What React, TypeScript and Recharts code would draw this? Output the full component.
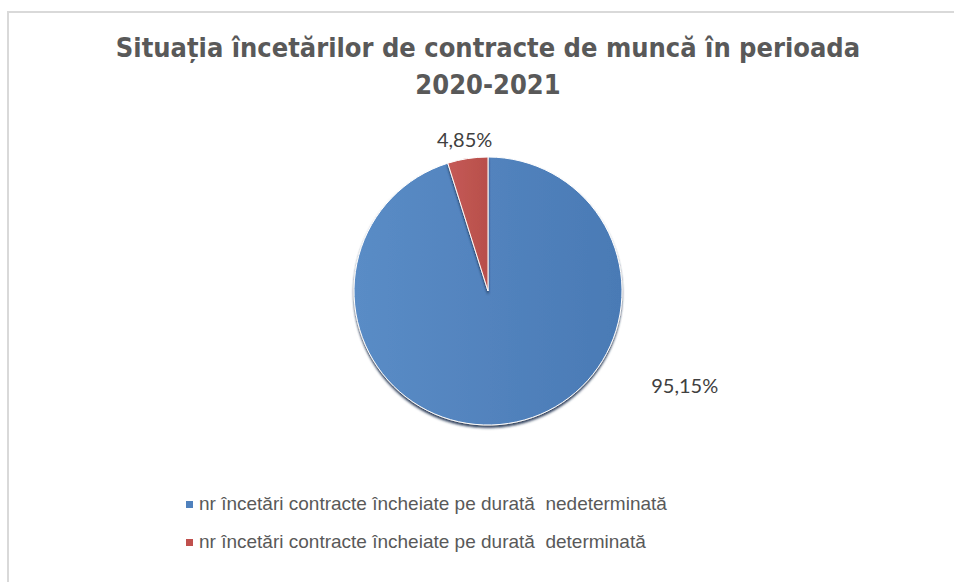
import { Cell, Legend, Pie, PieChart } from "recharts";

const categories = [
  "nr încetări contracte încheiate pe durată  nedeterminată",
  "nr încetări contracte încheiate pe durată  determinată",
];
const shares = [95.15, 4.85];
const labels = ["95,15%", "4,85%"];
const fills = ["url(#blueFill)", "url(#redFill)"];
const swatches = ["#4f81bd", "#c0504d"];

const data = categories.map((name, i) => ({ name, value: shares[i], label: labels[i] }));

const RAD = Math.PI / 180;

function renderLabel(props: any) {
  const cx = Number(props.cx);
  const cy = Number(props.cy);
  const outerRadius = Number(props.outerRadius);
  const { midAngle, index } = props;
  // Excel's best-fit placement: the big slice label sits off to the lower right
  const angle = index === 0 ? -25.5 : midAngle;
  const r = index === 0 ? outerRadius + 84 : outerRadius + 20;
  const x = cx + r * Math.cos(-angle * RAD);
  const y = cy + r * Math.sin(-angle * RAD);
  return (
    <text
      key={index}
      x={x}
      y={y}
      textAnchor="middle"
      dominantBaseline="central"
      fill="#404040"
      fontSize={20}
      fontFamily="Lato, 'Open Sans', sans-serif"
    >
      {data[index].label}
    </text>
  );
}

function LegendBox({ payload }: any) {
  return (
    <div style={{ fontFamily: "'Liberation Sans', Arial, sans-serif", fontSize: 19, color: "#595959" }}>
      {(payload || []).map((p: any, i: number) => (
        <div key={i} style={{ display: "flex", alignItems: "center", height: 38, whiteSpace: "pre" }}>
          <span style={{ width: 7, height: 7, background: swatches[i], marginRight: 6, display: "inline-block" }} />
          {categories[i]}
        </div>
      ))}
    </div>
  );
}

export default function App() {
  return (
    <div style={{ position: "absolute", left: 0, top: 0, width: 954, height: 582, overflow: "hidden", background: "#fff" }}>
      <svg width={0} height={0} style={{ position: "absolute" }}>
        <defs>
          <linearGradient id="blueFill" x1="0" y1="0" x2="1" y2="0">
            <stop offset="0%" stopColor="#5a8cc6" />
            <stop offset="100%" stopColor="#4a7ab5" />
          </linearGradient>
          <linearGradient id="redFill" x1="0" y1="0" x2="1" y2="0">
            <stop offset="0%" stopColor="#c55a56" />
            <stop offset="100%" stopColor="#b84f4b" />
          </linearGradient>
          <filter id="pieShadow" x="-20%" y="-20%" width="140%" height="140%">
            <feDropShadow dx="0" dy="2.5" stdDeviation="0.9" floodColor="#1c3350" floodOpacity="0.9" />
          </filter>
        </defs>
      </svg>
      <div
        style={{
          position: "absolute",
          left: 7,
          top: 11,
          width: 1000,
          height: 600,
          borderTop: "2px solid #d9d9d9",
          borderLeft: "2px solid #d9d9d9",
        }}
      />
      <div
        style={{
          position: "absolute",
          left: 0,
          top: 29,
          width: 976,
          textAlign: "center",
          fontFamily: "'DejaVu Sans Condensed', 'DejaVu Sans', sans-serif",
          fontStretch: "condensed",
          fontWeight: "bold",
          fontSize: 27,
          lineHeight: "37px",
          color: "#595959",
        }}
      >
        Situația încetărilor de contracte de muncă în perioada
        <br />
        2020-2021
      </div>
      <div style={{ position: "absolute", left: 0, top: 0 }}>
        <PieChart width={954} height={582} margin={{ top: 0, right: 0, bottom: 0, left: 0 }}>
          <Pie
            data={data}
            dataKey="value"
            nameKey="name"
            cx={488}
            cy={291}
            outerRadius={134}
            startAngle={90}
            endAngle={-270}
            stroke="#ffffff"
            strokeWidth={1}
            label={renderLabel}
            labelLine={false}
            isAnimationActive={false}
          >
            {data.map((d, i) => (
              <Cell key={d.name} fill={fills[i]} filter="url(#pieShadow)" />
            ))}
          </Pie>
          <Legend
            content={<LegendBox />}
            layout="horizontal"
            verticalAlign="bottom"
            align="left"
            wrapperStyle={{ left: 186, top: 485, bottom: "auto", width: 700 }}
          />
        </PieChart>
      </div>
    </div>
  );
}
